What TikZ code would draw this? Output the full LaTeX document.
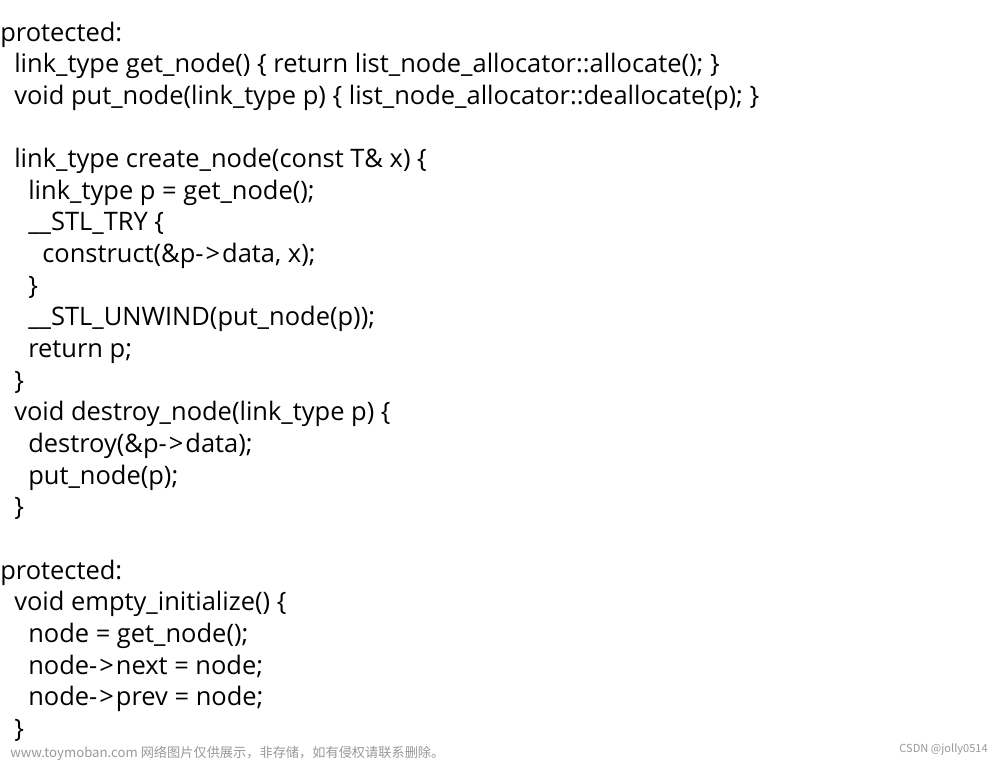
\documentclass[tikz,border=0pt]{standalone}
\usepackage{fontspec}
\setmainfont{Open Sans}
\newfontfamily\cjkfont{Noto Sans CJK SC}
\newcommand{\ptr}{-\kern1.5pt>\kern1.5pt}
\tikzset{
  codeline/.style={anchor=base west, inner sep=0pt, font=\fontsize{19.1}{22}\selectfont},
  wmark/.style={inner sep=0pt, text=black!40, font=\cjkfont\fontsize{9.9}{12}\selectfont}
}
\begin{document}
\begin{tikzpicture}[x=0.75pt,y=-0.75pt]
  \fill[white] (0,0) rectangle (1000,761);
  % first block
  \node[codeline] (l0) at (0,41) {protected:};
  \node[codeline] (l1) at (14,72.6) {link\_type get\_node() \{ return list\_node\_allocator::allocate(); \}};
  \node[codeline] (l2) at (14,104.3) {void put\_node(link\_type p) \{ list\_node\_allocator::deallocate(p); \}};
  \node[codeline] (l4) at (14,167.6) {link\_type create\_node(const T\& x) \{};
  \node[codeline] (l5) at (28,199.3) {link\_type p = get\_node();};
  \node[codeline] (l6) at (28,230.9) {\_\_STL\_TRY \{};
  \node[codeline] (l7) at (42,262.6) {construct(\&p\ptr data, x);};
  \node[codeline] (l8) at (28,294.2) {\}};
  \node[codeline] (l9) at (28,325.9) {\_\_STL\_UNWIND(put\_node(p));};
  \node[codeline] (l10) at (28,357.5) {return p;};
  \node[codeline] (l11) at (14,389.2) {\}};
  \node[codeline] (l12) at (14,420.8) {void destroy\_node(link\_type p) \{};
  \node[codeline] (l13) at (28,452.5) {destroy(\&p\ptr data);};
  \node[codeline] (l14) at (28,484.1) {put\_node(p);};
  \node[codeline] (l15) at (14,515.8) {\}};
  % second block
  \node[codeline] (l17) at (0,579.1) {protected:};
  \node[codeline] (l18) at (14,610.7) {void empty\_initialize() \{};
  \node[codeline] (l19) at (28,642.4) {node = get\_node();};
  \node[codeline] (l20) at (28,674) {node\ptr next = node;};
  \node[codeline] (l21) at (28,705.7) {node\ptr prev = node;};
  \node[codeline] (l22) at (14,737.3) {\}};
  % watermarks
  \node[wmark, anchor=base west] (wm) at (10,757) {www.toymoban.com 网络图片仅供展示，非存储，如有侵权请联系删除。};
  \node[wmark, anchor=base east, font=\cjkfont\fontsize{8.3}{10}\selectfont] (csdn) at (988,752) {CSDN @jolly0514};
\end{tikzpicture}
\end{document}
